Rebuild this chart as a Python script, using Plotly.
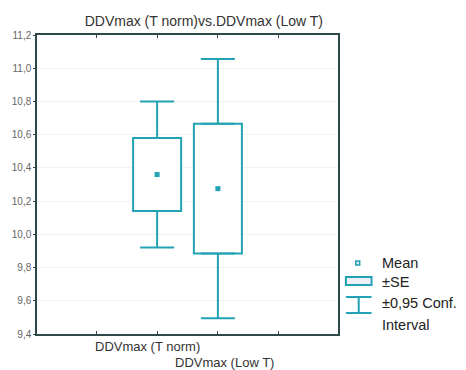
import plotly.graph_objects as go

# ---- data ----
categories = ["DDVmax (T norm)", "DDVmax (Low T)"]
means = [10.36, 10.275]
se = [0.22, 0.39]          # +/- SE (box half-height)
ci95 = [0.44, 0.78]        # +/- 0.95 conf. interval (whisker half-length)
y_ticks = [9.4, 9.6, 9.8, 10.0, 10.2, 10.4, 10.6, 10.8, 11.0, 11.2]
y_tick_labels = ["9,4", "9,6", "9,8", "10,0", "10,2", "10,4", "10,6", "10,8", "11,0", "11,2"]
title_text = "DDVmax (T norm)vs.DDVmax (Low T)"
legend_labels = ["Mean", "±SE", "±0,95 Conf.", "Interval"]

TEAL = "#22a2b4"
AXIS = "#2e4848"
FONT = "Liberation Sans, Arial, sans-serif"

W, H = 466, 370
L, R, T, B = 33, 128, 35, 36
PW, PH = W - L - R, H - T - B

def px(x):
    return (x - L) / PW

def py(y):
    return (H - B - y) / PH

xpos = [i + 2 for i in range(len(categories))]
se_low = [m - s for m, s in zip(means, se)]
se_high = [m + s for m, s in zip(means, se)]
up_len = [c - s for c, s in zip(ci95, se)]

fig = go.Figure()

# SE boxes
fig.add_trace(go.Bar(
    x=xpos, y=[2 * s for s in se], base=se_low, width=0.79,
    marker=dict(color="white", line=dict(color=TEAL, width=2)),
    showlegend=False, hoverinfo="skip"))

# upper whiskers (from box top to CI top)
fig.add_trace(go.Scatter(
    x=xpos, y=se_high, mode="markers",
    marker=dict(size=1, color="rgba(0,0,0,0)"),
    error_y=dict(type="data", symmetric=False, array=up_len,
                 arrayminus=[0] * len(xpos), color=TEAL, thickness=2, width=17),
    showlegend=False, hoverinfo="skip"))

# lower whiskers (from box bottom to CI bottom)
fig.add_trace(go.Scatter(
    x=xpos, y=se_low, mode="markers",
    marker=dict(size=1, color="rgba(0,0,0,0)"),
    error_y=dict(type="data", symmetric=False, array=[0] * len(xpos),
                 arrayminus=up_len, color=TEAL, thickness=2, width=17),
    showlegend=False, hoverinfo="skip"))

# means
fig.add_trace(go.Scatter(
    x=xpos, y=means, mode="markers",
    marker=dict(symbol="square", size=5, color=TEAL, line=dict(width=0)),
    showlegend=False))

fig.update_layout(
    width=W, height=H,
    margin=dict(l=L, r=R, t=T, b=B),
    paper_bgcolor="white", plot_bgcolor="white",
    font=dict(family=FONT, color="#333"),
    showlegend=False,
    title=dict(text=title_text, xref="container", x=323 / W, xanchor="right",
               yref="container", y=1 - 21 / H, yanchor="middle",
               font=dict(size=14, color="#333", family=FONT)),
)

fig.update_xaxes(
    range=[0.024, 4.976], tickvals=[1, 2, 3, 4], ticktext=["", "", "", ""],
    ticks="inside", ticklen=3, tickcolor=AXIS, showgrid=False, zeroline=False,
    showline=True, linecolor=AXIS, linewidth=1.5, mirror="ticks",
)
fig.update_yaxes(
    range=[9.4, 11.2], tickvals=y_ticks, ticktext=y_tick_labels,
    ticks="outside", ticklen=2, tickcolor=AXIS,
    tickfont=dict(size=10, color="#666", family=FONT),
    showgrid=True, gridcolor="#edf3f7", gridwidth=1, zeroline=False,
    showline=True, linecolor=AXIS, linewidth=1.5, mirror=True,
)

# category labels (staggered)
fig.add_annotation(x=xpos[0], xref="x", y=py(346), yref="paper", text=categories[0],
                   showarrow=False, xanchor="center", yanchor="middle", xshift=-10,
                   font=dict(size=13, color="#333", family=FONT))
fig.add_annotation(x=xpos[1], xref="x", y=py(362), yref="paper", text=categories[1],
                   showarrow=False, xanchor="center", yanchor="middle", xshift=7,
                   font=dict(size=13, color="#333", family=FONT))

# custom legend
shapes = []
shapes.append(dict(type="rect", xref="paper", yref="paper",
                   x0=px(356), x1=px(360), y0=py(265), y1=py(261),
                   line=dict(color=TEAL, width=1.5), fillcolor="#dfe8f0"))
shapes.append(dict(type="rect", xref="paper", yref="paper",
                   x0=px(346), x1=px(372), y0=py(285), y1=py(277),
                   line=dict(color=TEAL, width=2), fillcolor="#eef2f8"))
shapes.append(dict(type="line", xref="paper", yref="paper",
                   x0=px(346), x1=px(372), y0=py(297), y1=py(297),
                   line=dict(color=TEAL, width=2)))
shapes.append(dict(type="line", xref="paper", yref="paper",
                   x0=px(359), x1=px(359), y0=py(297), y1=py(313),
                   line=dict(color=TEAL, width=2)))
shapes.append(dict(type="line", xref="paper", yref="paper",
                   x0=px(346), x1=px(372), y0=py(313), y1=py(313),
                   line=dict(color=TEAL, width=2)))
fig.update_layout(shapes=shapes)

for text, yy in zip(legend_labels, [263, 282, 303, 325]):
    fig.add_annotation(x=px(381), xref="paper", y=py(yy), yref="paper", text=text,
                       showarrow=False, xanchor="left", yanchor="middle",
                       font=dict(size=14.5, color="#222", family=FONT))

fig.write_html("out.html",
               config={"displayModeBar": False},
               post_script="document.body.style.margin='0px';document.body.style.overflow='hidden';")
